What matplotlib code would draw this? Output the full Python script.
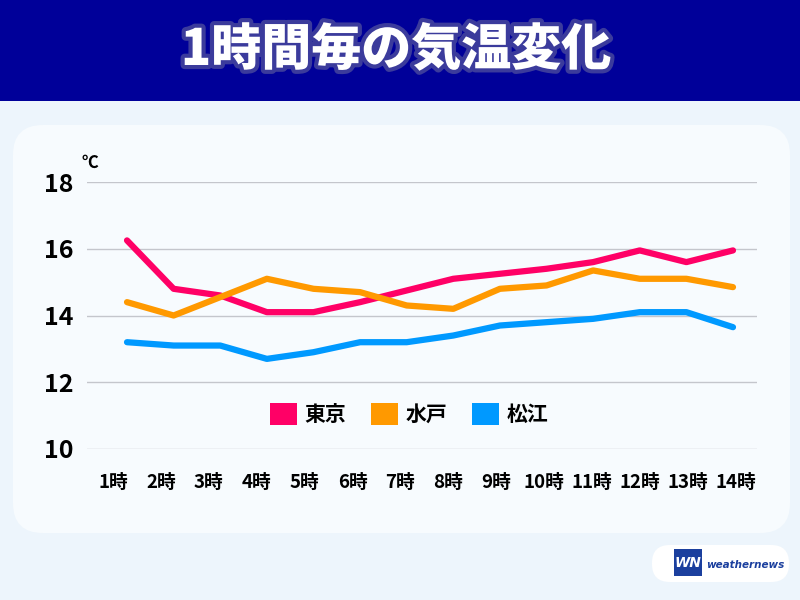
import matplotlib
matplotlib.use("Agg")
import matplotlib.pyplot as plt
from matplotlib.patches import FancyBboxPatch, Rectangle, Patch
import matplotlib.patheffects as pe
import numpy as np

plt.rcParams['font.family'] = ['Noto Sans CJK JP', 'DejaVu Sans']

# ---- data ----
title = '1時間毎の気温変化'
hours = ['1時', '2時', '3時', '4時', '5時', '6時', '7時', '8時', '9時',
         '10時', '11時', '12時', '13時', '14時']
series_names = ['東京', '水戸', '松江']
tokyo = [16.25, 14.8, 14.6, 14.1, 14.1, 14.4, 14.75, 15.1, 15.25, 15.4, 15.6, 15.95, 15.6, 15.95]
mito = [14.4, 14.0, 14.55, 15.1, 14.8, 14.7, 14.3, 14.2, 14.8, 14.9, 15.35, 15.1, 15.1, 14.85]
matsue = [13.2, 13.1, 13.1, 12.7, 12.9, 13.2, 13.2, 13.4, 13.7, 13.8, 13.9, 14.1, 14.1, 13.65]
yticks = [10, 12, 14, 16, 18]
unit = '℃'
colors = ['#ff0066', '#ff9900', '#0099ff']

fig = plt.figure(figsize=(8, 6), dpi=100)
fig.patch.set_facecolor('#edf5fc')

# background layer in pixel coordinates
bg = fig.add_axes([0, 0, 1, 1])
bg.set_xlim(0, 800)
bg.set_ylim(600, 0)
bg.axis('off')
bg.add_patch(Rectangle((0, 0), 800, 101, color='#000099', lw=0))
bg.add_patch(FancyBboxPatch((13, 125), 777, 408, boxstyle='round,pad=0,rounding_size=30',
                            fc='#f7fbfe', ec='none'))
bg.text(396, 50, title, ha='center', va='center', color='white', fontsize=36,
        fontweight='heavy',
        path_effects=[pe.withStroke(linewidth=6, foreground='#3b3b9c')])
# logo
bg.add_patch(FancyBboxPatch((652, 545), 137, 37, boxstyle='round,pad=0,rounding_size=18',
                            fc='white', ec='none'))
bg.add_patch(Rectangle((674, 549), 28, 27, angle=0, color='#1b3f9e', lw=0))
bg.text(688, 563, 'WN', ha='center', va='center', color='white', fontsize=10,
        fontweight='bold', style='italic', family='DejaVu Sans')
bg.text(706, 565, 'weathernews', ha='left', va='center', color='#1b3f9e', fontsize=7.5,
        fontweight='bold', style='italic', family='DejaVu Sans')

# main chart axes
L, R = 87 / 800, 757 / 800
B, T = 1 - 449 / 600, 1 - 182 / 600
ax = fig.add_axes([L, B, R - L, T - B])
ax.set_facecolor('none')
x = np.arange(1, len(hours) + 1)
for vals, c, name in zip([tokyo, mito, matsue], colors, series_names):
    ax.plot(x, vals, color=c, lw=4.5, solid_capstyle='round', solid_joinstyle='round',
            label=name, clip_on=False, zorder=3)
ax.set_xlim(1 - 40 / 46.6, 14 + 24 / 46.6)
ax.set_ylim(10, 18)
ax.set_yticks(yticks)
ax.set_yticklabels([str(v) for v in yticks], fontsize=18, fontweight='bold')
# category labels are spaced slightly wider than the data points
tick_pos = 1 + (x - 1) * (47.9 / 46.6) - 14 / 46.6
ax.set_xticks(tick_pos)
ax.set_xticklabels(hours, fontsize=13.5, fontweight='bold')
ax.tick_params(axis='y', length=0, pad=10)
ax.tick_params(axis='x', length=0, pad=17)
ax.grid(axis='y', color='#c4c6cc', lw=1)
ax.set_axisbelow(True)
for s in ax.spines.values():
    s.set_visible(False)
ax.text(-0.008, 1.07, unit, transform=ax.transAxes, ha='left', va='center',
        fontsize=12, fontweight='bold')

handles = [Patch(facecolor=c, edgecolor='none', label=n) for c, n in zip(colors, series_names)]
ax.legend(handles=handles, loc='center', bbox_to_anchor=(0.481, 0.131), ncol=3,
          frameon=False, prop={'size': 15, 'weight': 'bold'},
          handlelength=1.3, handleheight=1.3, handletextpad=0.35, columnspacing=1.2)

fig.savefig('out.png', dpi=100, facecolor=fig.get_facecolor())
